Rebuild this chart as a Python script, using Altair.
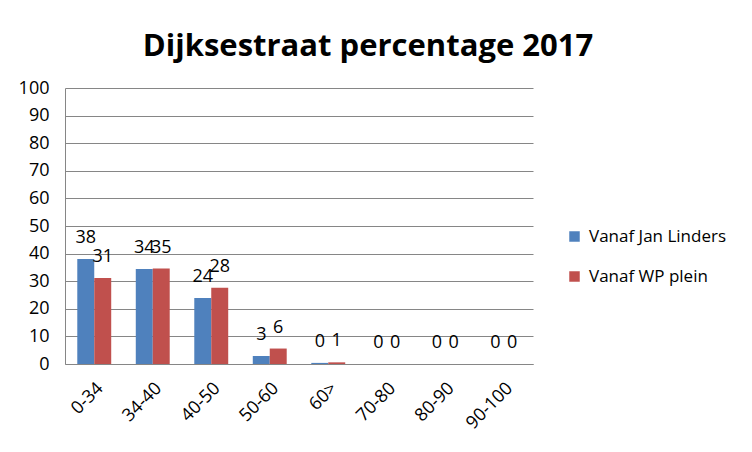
import altair as alt
import pandas as pd

categories = ["0-34", "34-40", "40-50", "50-60", "60>", "70-80", "80-90", "90-100"]
series = ["Vanaf Jan Linders", "Vanaf WP plein"]
jan_linders = [38.0, 34.4, 23.9, 2.9, 0.4, 0.0, 0.0, 0.0]
wp_plein = [31.2, 34.6, 27.6, 5.6, 0.6, 0.0, 0.0, 0.0]
colors = ["#4F81BD", "#C0504D"]

rows = []
for c, a, b in zip(categories, jan_linders, wp_plein):
    rows.append({"cat": c, "serie": series[0], "value": a})
    rows.append({"cat": c, "serie": series[1], "value": b})
df = pd.DataFrame(rows)

FONT = "Open Sans"

x = alt.X("cat:N", sort=categories, title=None,
          scale=alt.Scale(paddingInner=0.42, paddingOuter=0.21),
          axis=alt.Axis(labelAngle=-45, labelFontSize=18, labelColor="black",
                        labelFont=FONT, ticks=False, domainColor="#868686",
                        labelPadding=15, grid=False))
y = alt.Y("value:Q", title=None,
          scale=alt.Scale(domain=[0, 100], nice=False),
          axis=alt.Axis(values=list(range(0, 101, 10)), labelFontSize=18,
                        labelColor="black", labelFont=FONT, ticks=False,
                        domainColor="#868686", gridColor="#868686",
                        labelPadding=16))
xo = alt.XOffset("serie:N", sort=series)
color = alt.Color("serie:N", sort=series, title=None,
                  scale=alt.Scale(domain=series, range=colors),
                  legend=alt.Legend(orient="none", legendX=501, legendY=140,
                                    symbolType="square", symbolSize=110,
                                    symbolStrokeWidth=0, labelFontSize=17,
                                    labelFont=FONT, labelColor="black",
                                    rowPadding=22, labelOffset=6))

bars = alt.Chart(df).mark_bar().encode(x=x, y=y, xOffset=xo, color=color)
labels = alt.Chart(df).mark_text(baseline="alphabetic", dy=-16, fontSize=18,
                                 font=FONT, color="black").encode(
    x=x, y=y, xOffset=xo, text=alt.Text("value:Q", format=".0f"))

chart = alt.layer(bars, labels).properties(
    width=468, height=276,
    padding={"left": 57, "top": 80, "right": 211, "bottom": 80},
    autosize=alt.AutoSizeParams(type="none"),
    title=alt.TitleParams("Dijksestraat percentage 2017", fontSize=31,
                          fontWeight="bold", font=FONT, color="black",
                          anchor="middle", dx=69, offset=22, dy=30,
                          baseline="alphabetic"),
).configure(background="white", view=alt.ViewConfig(stroke="transparent", strokeWidth=0))

chart.save("out.html", embed_options={"renderer": "svg", "actions": False})
